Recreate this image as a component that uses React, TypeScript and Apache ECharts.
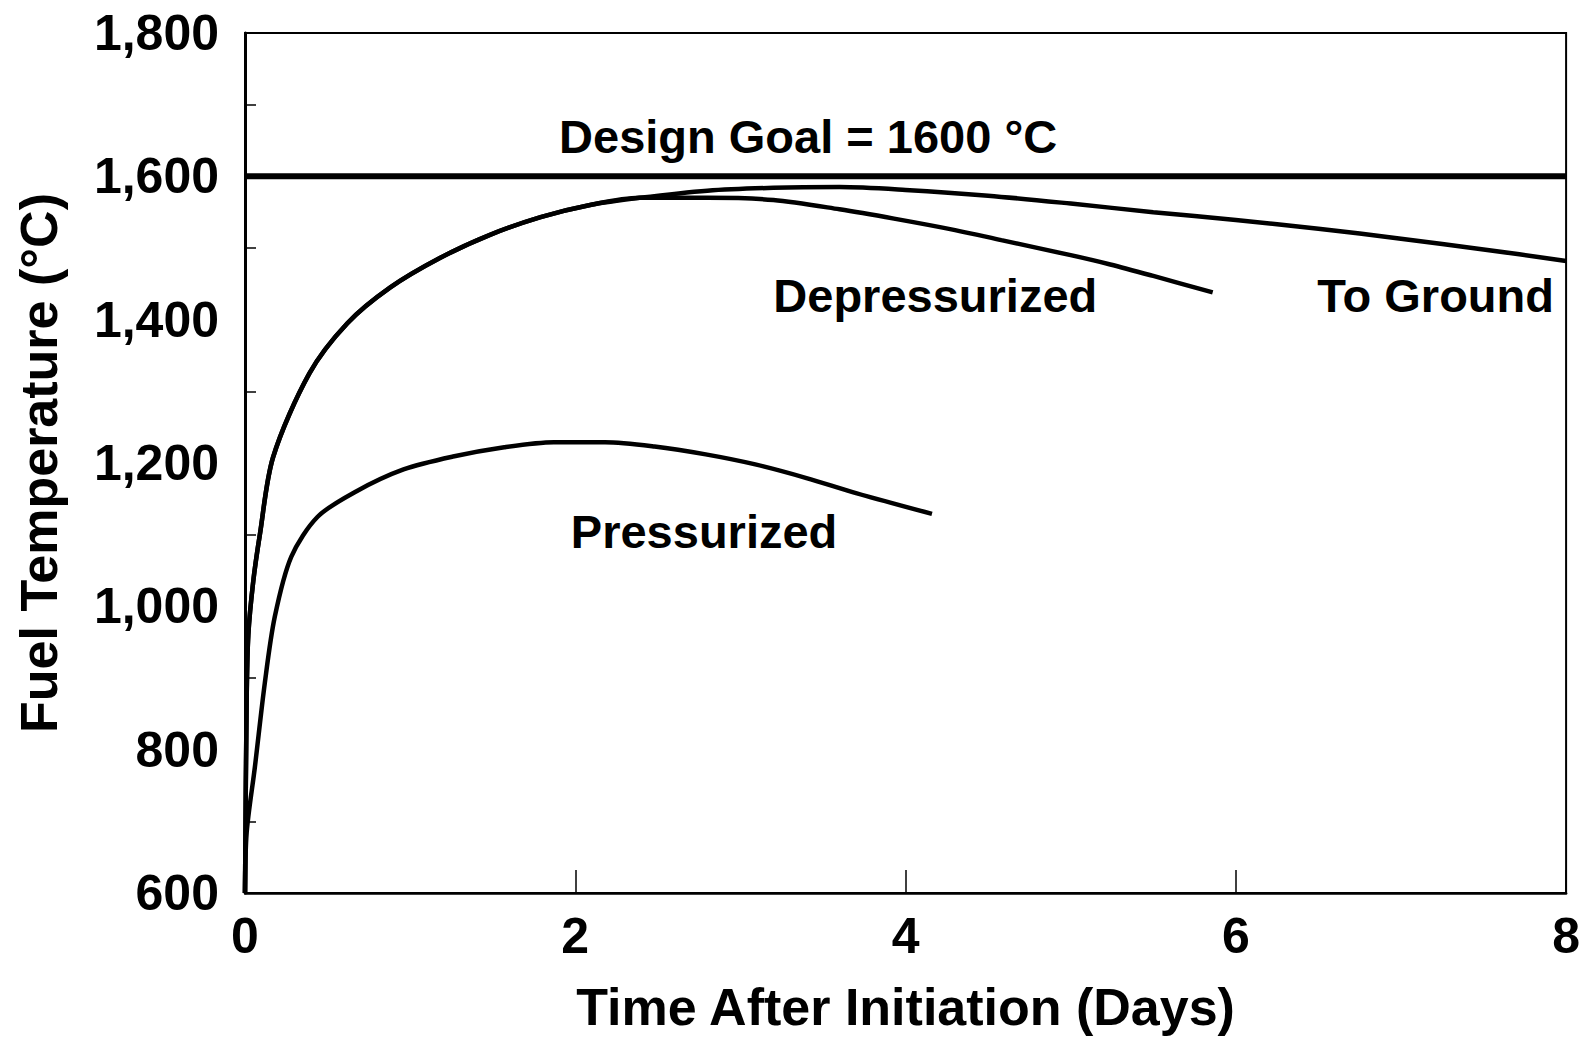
import React, { useEffect, useRef } from "react";
import * as echarts from "echarts";

// X axis: days, Y axis: °C
const xTickValues = [0, 2, 4, 6, 8];
const yTickValues = [600, 800, 1000, 1200, 1400, 1600, 1800];

// Shared heat-up portion of the upper curves
const risingDays = [0, 0.01, 0.02, 0.05, 0.09, 0.17, 0.39, 0.62, 0.88, 1.18, 1.48, 1.79, 2.09, 2.39];
const risingTemps = [600, 870, 960, 1035, 1100, 1208, 1325, 1395, 1445, 1486, 1518, 1543, 1560, 1570];

// "To Ground" tail
const toGroundDays = [2.8, 3.2, 3.6, 4.0, 4.5, 5.0, 5.5, 6.0, 6.5, 7.0, 7.5, 8.0];
const toGroundTemps = [1580, 1584, 1585, 1581, 1573, 1562, 1550, 1539, 1527, 1513, 1498, 1482];

// "Depressurized" tail
const depressDays = [2.8, 3.2, 3.6, 3.93, 4.3, 4.58, 5.0, 5.24, 5.5, 5.86];
const depressTemps = [1570, 1567, 1554, 1541, 1525, 1511, 1490, 1477, 1461, 1438];

// "Pressurized" curve
const pressDays = [0, 0.01, 0.06, 0.12, 0.18, 0.28, 0.44, 0.67, 0.96, 1.26, 1.57, 1.87, 2.18, 2.48, 2.79, 3.09, 3.4, 3.7, 4.16];
const pressTemps = [600, 684, 776, 893, 985, 1069, 1125, 1160, 1191, 1209, 1222, 1229, 1229, 1223, 1212, 1198, 1179, 1158, 1129];

// Design goal
const designGoal = 1600;
const designGoalSpan = [0, 8];

// Annotation texts and their anchors (data coordinates)
const annotationTexts = ["Design Goal = 1600 °C", "Depressurized", "To Ground", "Pressurized"];
const annotationDays = [3.41, 4.18, 7.21, 2.78];
const annotationTemps = [1656, 1434, 1434, 1104];

const FONT = '"Liberation Sans", Arial, Helvetica, sans-serif';

function zip(xs: number[], ys: number[]) {
  return xs.map((x, i) => [x, ys[i]]);
}

export default function App() {
  const ref = useRef<HTMLDivElement>(null);

  useEffect(() => {
    if (!ref.current) return;
    const chart = echarts.init(ref.current, undefined, { renderer: "svg" });

    const rising = zip(risingDays, risingTemps);
    const toGround = rising.concat(zip(toGroundDays, toGroundTemps));
    const depress = rising.concat(zip(depressDays, depressTemps));
    const press = zip(pressDays, pressTemps);

    const curveStyle = { color: "#000", width: 4.5 };

    chart.setOption({
      animation: false,
      backgroundColor: "#fff",
      grid: {
        left: 245,
        right: 16,
        top: 33,
        bottom: 145,
        show: true,
        borderColor: "#000",
        borderWidth: 2,
        backgroundColor: "transparent",
      },
      xAxis: {
        type: "value",
        min: xTickValues[0],
        max: xTickValues[xTickValues.length - 1],
        interval: 2,
        name: "Time After Initiation (Days)",
        nameLocation: "middle",
        nameGap: 88,
        nameTextStyle: { fontFamily: FONT, fontWeight: "bold", fontSize: 52, color: "#000" },
        axisLine: { show: true, lineStyle: { color: "#000", width: 2.5 } },
        axisTick: { show: true, inside: true, length: 23, lineStyle: { color: "#000", width: 1.5 } },
        splitLine: { show: false },
        axisLabel: {
          margin: 18,
          fontFamily: FONT,
          fontWeight: "bold",
          fontSize: 50,
          color: "#000",
        },
      },
      yAxis: {
        type: "value",
        min: yTickValues[0],
        max: yTickValues[yTickValues.length - 1],
        interval: 200,
        name: "Fuel Temperature (°C)",
        nameLocation: "middle",
        nameGap: 180,
        nameRotate: 90,
        nameTextStyle: { fontFamily: FONT, fontWeight: "bold", fontSize: 52, color: "#000" },
        axisLine: { show: true, lineStyle: { color: "#000", width: 3 } },
        axisTick: { show: false, inside: true },
        minorTick: { show: true, splitNumber: 2, length: 11, lineStyle: { color: "#000", width: 1.5 } },
        splitLine: { show: false },
        minorSplitLine: { show: false },
        axisLabel: {
          margin: 26,
          fontFamily: FONT,
          fontWeight: "bold",
          fontSize: 50,
          color: "#000",
          formatter: (v: number) => v.toLocaleString("en-US"),
        },
      },
      series: [
        {
          name: "Design Goal",
          type: "line",
          data: designGoalSpan.map((d) => [d, designGoal]),
          symbol: "none",
          lineStyle: { color: "#000", width: 6 },
          silent: true,
        },
        {
          name: "To Ground",
          type: "line",
          data: toGround,
          symbol: "none",
          smooth: 0.3,
          lineStyle: curveStyle,
          silent: true,
        },
        {
          name: "Depressurized",
          type: "line",
          data: depress,
          symbol: "none",
          smooth: 0.3,
          lineStyle: curveStyle,
          silent: true,
        },
        {
          name: "Pressurized",
          type: "line",
          data: press,
          symbol: "none",
          smooth: 0.3,
          lineStyle: curveStyle,
          silent: true,
        },
        {
          name: "Annotations",
          type: "scatter",
          symbolSize: 0,
          silent: true,
          itemStyle: { opacity: 1, color: "#000" },
          data: annotationTexts.map((t, i) => ({ name: t, value: [annotationDays[i], annotationTemps[i]] })),
          label: {
            show: true,
            position: "inside",
            formatter: "{b}",
            fontFamily: FONT,
            fontWeight: "bold",
            fontSize: 47,
            color: "#000",
            opacity: 1,
            textBorderWidth: 0,
          },
        },
      ],
    });

    return () => chart.dispose();
  }, []);

  return (
    <div
      ref={ref}
      style={{ position: "absolute", left: 0, top: 0, width: 1583, height: 1038 }}
    />
  );
}
